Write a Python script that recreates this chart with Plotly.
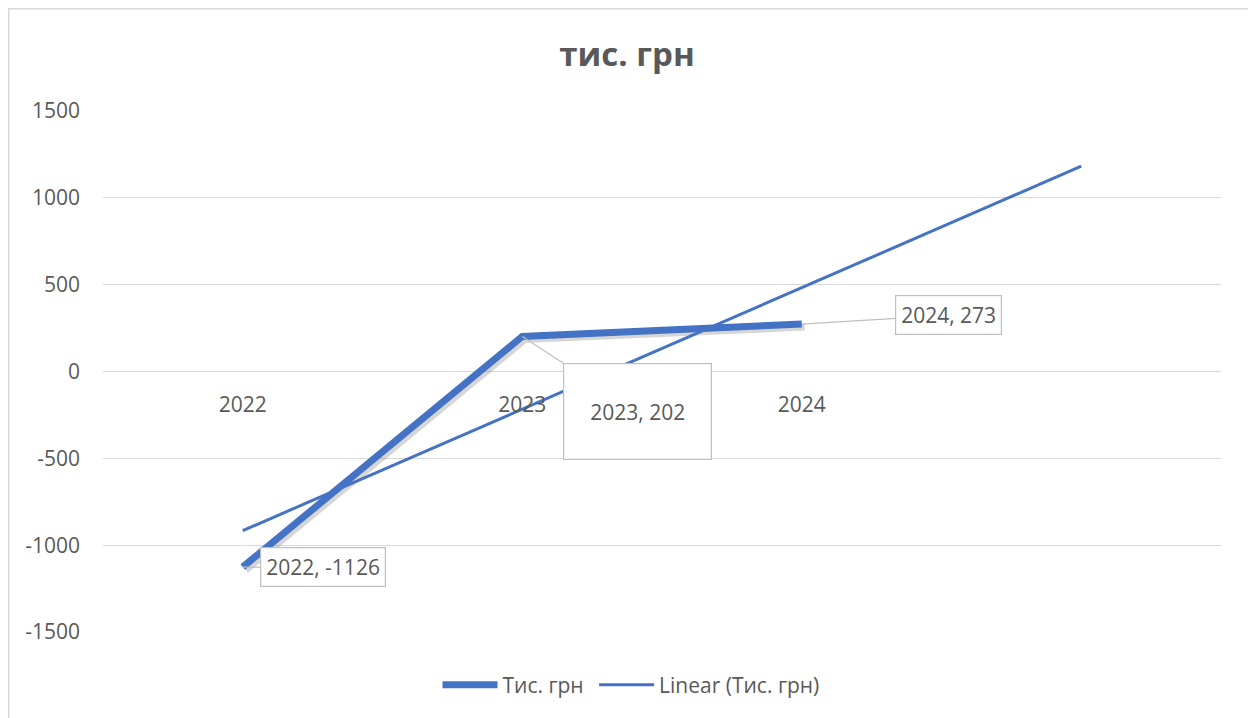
import numpy as np
import plotly.graph_objects as go

# ---- data ----
categories = ["2022", "2023", "2024"]
values = [-1126, 202, 273]
series_name = "Тис. грн"
trend_name = "Linear (Тис. грн)"
title_text = "тис. грн"
y_ticks = [-1500, -1000, -500, 0, 500, 1000, 1500]
y_tick_labels = [str(v) for v in y_ticks]
forecast_forward = 1

x_idx = np.arange(len(categories))
slope, intercept = np.polyfit(x_idx, values, 1)
trend_x = np.array([0, len(categories) - 1 + forecast_forward])
trend_y = slope * trend_x + intercept

BLUE = "#4472C4"
GRAY_TXT = "#595959"
GRID = "#D9D9D9"
FONT = "Open Sans"
NBSP = "\u00a0"

# page body has an 8px margin; work in figure pixels
OFF = 8
W, H = 1256 - OFF, 718 - OFF
L, T = 103 - OFF, 111 - OFF
R = W - (1221 - OFF)
B = H - (632 - OFF)
pw, ph = W - L - R, H - T - B

x_range = [-0.5, len(categories) - 0.5 + forecast_forward]
y_range = [-1500, 1500]


def px_x(s):
    return (s - OFF - L) / pw


def px_y(s):
    return (H - B - (s - OFF)) / ph


# soft drop shadow under the main series (offset a few pixels down-right)
sh_px = 3
dx = sh_px * (x_range[1] - x_range[0]) / pw
dy = sh_px * (y_range[1] - y_range[0]) / ph
shadow_x = x_idx + dx
shadow_y = np.array(values) - dy

fig = go.Figure()
fig.add_trace(go.Scatter(x=shadow_x, y=shadow_y, mode="lines", showlegend=False,
                         hoverinfo="skip",
                         line=dict(color="rgba(0,0,0,0.16)", width=7)))
fig.add_trace(go.Scatter(x=x_idx, y=values, mode="lines", name=series_name + NBSP,
                         xaxis="x2", yaxis="y2",
                         line=dict(color=BLUE, width=7)))
fig.add_trace(go.Scatter(x=trend_x, y=trend_y, mode="lines", name=trend_name,
                         xaxis="x2", yaxis="y2",
                         line=dict(color=BLUE, width=3)))

# data label callouts (offsets in pixels)
label_offsets = [(80, 0), (115, 75), (147, -9)]
label_sizes = [(None, None), (137, 85), (None, None)]
for i, (cat, v) in enumerate(zip(categories, values)):
    ax, ay = label_offsets[i]
    w, h = label_sizes[i]
    kw = dict(width=w, height=h) if w else {}
    fig.add_annotation(x=x_idx[i], y=v, text=f"{cat}, {v}", showarrow=True,
                       arrowhead=0, arrowwidth=1.2, arrowcolor="#BFBFBF",
                       ax=ax, ay=ay, bgcolor="white", bordercolor="#BFBFBF",
                       borderwidth=1.2, borderpad=5,
                       font=dict(family=FONT, size=21, color=GRAY_TXT), **kw)

fig.add_shape(type="rect", xref="paper", yref="paper",
              x0=px_x(8.8), x1=px_x(1250.5), y0=px_y(730), y1=px_y(8.8),
              line=dict(color=GRID, width=1.5), fillcolor="rgba(0,0,0,0)", layer="below")

fig.update_layout(
    width=W, height=H,
    margin=dict(l=L, r=R, t=T, b=B),
    paper_bgcolor="white", plot_bgcolor="white",
    title=dict(text=f"<b>{title_text}</b>", x=(627 - OFF) / W, xref="container",
               xanchor="center", y=1 - (54 - OFF) / H, yref="container", yanchor="middle",
               font=dict(family=FONT, size=33, color=GRAY_TXT)),
    showlegend=True,
    legend=dict(orientation="h", x=px_x(631), xanchor="center", y=px_y(685),
                yanchor="middle",
                font=dict(family=FONT, size=21, color=GRAY_TXT), bgcolor="rgba(0,0,0,0)",
                itemwidth=55),
    xaxis=dict(range=x_range,
               tickvals=list(x_idx), ticktext=categories,
               anchor="free", position=0.5, showgrid=False, zeroline=False,
               showline=False, ticks="", ticklabelstandoff=18,
               tickfont=dict(family=FONT, size=21, color=GRAY_TXT)),
    yaxis=dict(range=y_range, tickvals=y_ticks, ticktext=y_tick_labels,
               showgrid=True, gridcolor=GRID, gridwidth=1.3, zeroline=True,
               zerolinecolor=GRID, zerolinewidth=1.3, showline=False, ticks="",
               ticklabelstandoff=22,
               tickfont=dict(family=FONT, size=21, color=GRAY_TXT)),
    xaxis2=dict(range=x_range, overlaying="x", visible=False, anchor="y2"),
    yaxis2=dict(range=y_range, overlaying="y", visible=False, anchor="x2"),
)

fig.write_html("out.html")
